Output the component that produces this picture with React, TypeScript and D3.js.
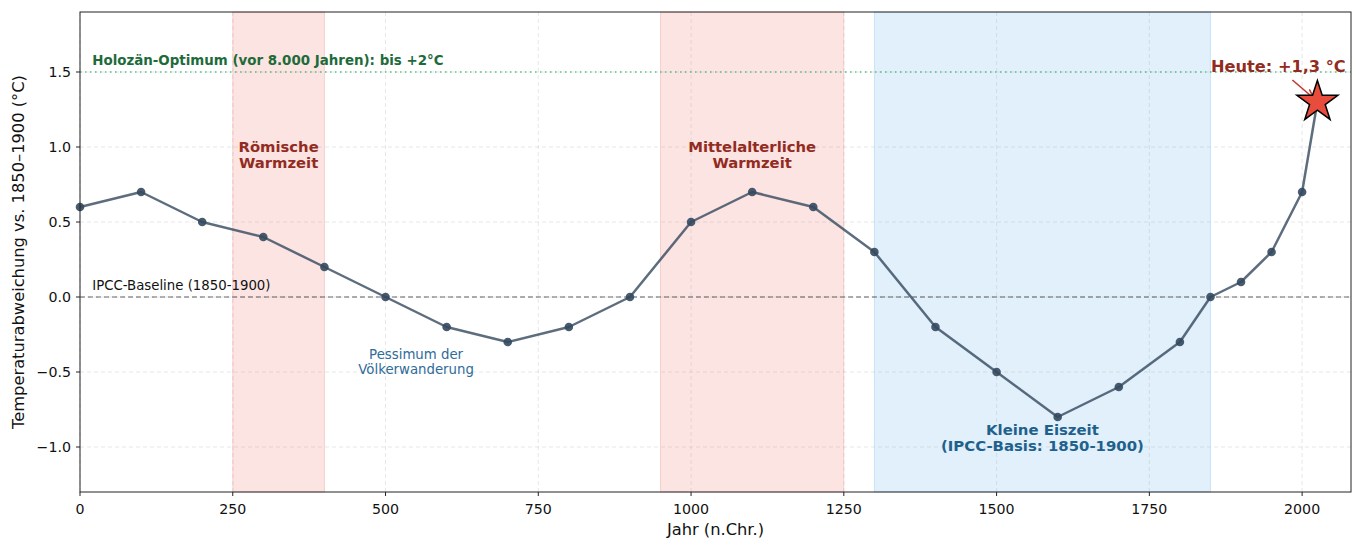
import React from "react";
import * as d3 from "d3";

const years = [0, 100, 200, 300, 400, 500, 600, 700, 800, 900, 1000, 1100, 1200, 1300, 1400, 1500, 1600, 1700, 1800, 1850, 1900, 1950, 2000, 2025];
const temps = [0.6, 0.7, 0.5, 0.4, 0.2, 0, -0.2, -0.3, -0.2, 0, 0.5, 0.7, 0.6, 0.3, -0.2, -0.5, -0.8, -0.6, -0.3, 0, 0.1, 0.3, 0.7, 1.3];
const xTicks = [0, 250, 500, 750, 1000, 1250, 1500, 1750, 2000];
const yTicks = [-1.0, -0.5, 0.0, 0.5, 1.0, 1.5];
const warmSpans = [[250, 400], [950, 1250]];
const coldSpans = [[1300, 1850]];
const today = { year: 2025, value: 1.3 };

const W = 1359, H = 538;
const M = { left: 80, right: 1351, top: 12, bottom: 492 };

export default function App() {
  const x = d3.scaleLinear().domain([0, 2080]).range([M.left, M.right]);
  const y = d3.scaleLinear().domain([-1.3, 1.9]).range([M.bottom, M.top]);
  const pts = years.map((yr, i) => [yr, temps[i]] as [number, number]);
  const linePts = pts.slice(0, pts.length - 1);
  const line = d3.line<[number, number]>().x(d => x(d[0])).y(d => y(d[1]));
  const font = "DejaVu Sans, sans-serif";
  const sx = x(today.year), sy = y(today.value);
  const star = d3.symbol().type(d3.symbolStar).size(520)();
  const fmtY = (v: number) => (v < 0 ? "\u2212" : "") + Math.abs(v).toFixed(1);

  return (
    <svg width={W} height={H} style={{ position: "absolute", left: 0, top: 0, fontFamily: font }}>
      <rect width={W} height={H} fill="#fff" />
      {warmSpans.map((s, i) => (
        <rect key={"w" + i} x={x(s[0])} y={M.top} width={x(s[1]) - x(s[0])} height={M.bottom - M.top}
          fill="#e74c3c" fillOpacity={0.15} stroke="#e74c3c" strokeOpacity={0.2} strokeWidth={1} />
      ))}
      {coldSpans.map((s, i) => (
        <rect key={"c" + i} x={x(s[0])} y={M.top} width={x(s[1]) - x(s[0])} height={M.bottom - M.top}
          fill="#3498db" fillOpacity={0.15} stroke="#3498db" strokeOpacity={0.2} strokeWidth={1} />
      ))}
      {xTicks.map(t => (
        <line key={"gx" + t} x1={x(t)} x2={x(t)} y1={M.top} y2={M.bottom} stroke="#b0b0b0" strokeOpacity={0.3} strokeDasharray="4,3" />
      ))}
      {yTicks.map(t => (
        <line key={"gy" + t} x1={M.left} x2={M.right} y1={y(t)} y2={y(t)} stroke="#b0b0b0" strokeOpacity={0.3} strokeDasharray="4,3" />
      ))}
      <line x1={M.left} x2={M.right} y1={y(0)} y2={y(0)} stroke="#000" strokeOpacity={0.6} strokeDasharray="5,3" strokeWidth={1} />
      <line x1={M.left} x2={M.right} y1={y(1.5)} y2={y(1.5)} stroke="#27ae60" strokeOpacity={0.75} strokeDasharray="1.5,3.5" strokeWidth={1.6} />
      <text x={x(20)} y={y(1.5) - 7} fontSize={13.4} fontWeight="bold" fill="#1e6b3a">Holozän-Optimum (vor 8.000 Jahren): bis +2°C</text>
      <text x={x(20)} y={y(0) - 7} fontSize={13.3} fill="#111">IPCC-Baseline (1850-1900)</text>

      <path d={line(linePts) || ""} fill="none" stroke="#34495e" strokeOpacity={0.8} strokeWidth={2.5} strokeLinejoin="round" />
      <line x1={x(years[years.length - 2])} y1={y(temps[temps.length - 2])} x2={sx} y2={sy} stroke="#34495e" strokeOpacity={0.8} strokeWidth={2.5} />
      {linePts.map((d, i) => (
        <circle key={"p" + i} cx={x(d[0])} cy={y(d[1])} r={4.3} fill="#34495e" fillOpacity={0.9} />
      ))}

      <g fontSize={14.8} fontWeight="bold" fill="#922b21" textAnchor="middle">
        <text x={x(325)} y={y(0.97)}>Römische</text>
        <text x={x(325)} y={y(0.97) + 16}>Warmzeit</text>
        <text x={x(1100)} y={y(0.97)}>Mittelalterliche</text>
        <text x={x(1100)} y={y(0.97) + 16}>Warmzeit</text>
      </g>
      <g fontSize={13.3} fill="#2e6c99" textAnchor="middle">
        <text x={x(550)} y={y(-0.41)}>Pessimum der</text>
        <text x={x(550)} y={y(-0.41) + 15}>Völkerwanderung</text>
      </g>
      <g fontSize={14.9} fontWeight="bold" fill="#1f618d" textAnchor="middle">
        <text x={x(1575)} y={y(-0.92)}>Kleine Eiszeit</text>
        <text x={x(1575)} y={y(-0.92) + 16}>(IPCC-Basis: 1850-1900)</text>
      </g>

      <defs>
        <marker id="ah" viewBox="0 0 10 10" refX="9" refY="5" markerWidth="6" markerHeight="6" orient="auto">
          <path d="M0,1 L10,5 L0,9" fill="none" stroke="#c0392b" strokeWidth={1.6} />
        </marker>
      </defs>
      <line x1={sx - 25} y1={sy - 22} x2={sx - 4} y2={sy - 4} stroke="#c0392b" strokeWidth={1.6} markerEnd="url(#ah)" />
      <text x={sx - 39} y={sy - 30} fontSize={16.2} fontWeight="bold" fill="#922b21" textAnchor="middle">Heute: +1,3 °C</text>
      <path d={star || ""} transform={`translate(${sx},${sy})`} fill="#e74c3c" stroke="#000" strokeWidth={1.5} />

      <rect x={M.left} y={M.top} width={M.right - M.left} height={M.bottom - M.top} fill="none" stroke="#222" strokeWidth={1} />
      {xTicks.map(t => (
        <g key={"tx" + t}>
          <line x1={x(t)} x2={x(t)} y1={M.bottom} y2={M.bottom + 4} stroke="#222" />
          <text x={x(t)} y={M.bottom + 22} fontSize={14.2} textAnchor="middle" fill="#111">{t}</text>
        </g>
      ))}
      {yTicks.map(t => (
        <g key={"ty" + t}>
          <line x1={M.left - 4} x2={M.left} y1={y(t)} y2={y(t)} stroke="#222" />
          <text x={M.left - 9} y={y(t) + 5} fontSize={14.2} textAnchor="end" fill="#111">{fmtY(t)}</text>
        </g>
      ))}
      <text x={(M.left + M.right) / 2} y={535} fontSize={16.3} textAnchor="middle" fill="#111">Jahr (n.Chr.)</text>
      <text transform={`translate(24,${(M.top + M.bottom) / 2}) rotate(-90)`} fontSize={16.3} textAnchor="middle" fill="#111">Temperaturabweichung vs. 1850–1900 (°C)</text>
    </svg>
  );
}
